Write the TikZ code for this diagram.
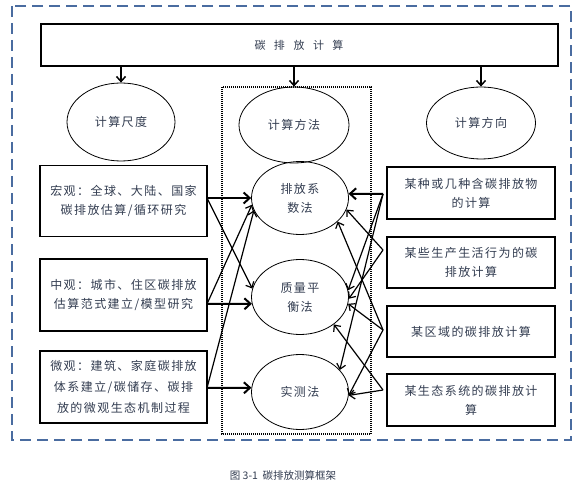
\documentclass[tikz,border=0pt]{standalone}
\usepackage{fontspec}
\newfontfamily\cjk[LetterSpace=12]{Noto Sans CJK SC}
\newfontfamily\cjkcap{Noto Sans CJK SC}
\usepackage{tikz}
\usetikzlibrary{shapes.geometric, arrows.meta}
\definecolor{txtgray}{RGB}{50,60,80}
\definecolor{dashblue}{RGB}{74,108,160}

\begin{document}
\begin{tikzpicture}[x=1pt, y=-1pt,
  box/.style={draw, line width=1.8pt, inner sep=0pt, align=center, text=txtgray,
    font=\cjk\fontsize{12}{19}\selectfont},
  oval/.style={draw, ellipse, line width=0.8pt, inner sep=0pt, align=center, text=txtgray,
    font=\cjk\fontsize{12}{19}\selectfont},
  arr/.style={line width=1.2pt, -{Straight Barb[length=5pt,width=9pt]}},
  thickarr/.style={line width=2pt, -{Straight Barb[length=6pt,width=11pt]}}]
\useasboundingbox (0,0) rectangle (585,486);
% outer frame and method frame
\draw[dashblue, line width=1.8pt, dash pattern=on 11pt off 6pt] (12,6) rectangle (571,440);
\draw[line width=1.2pt, dash pattern=on 1pt off 1pt] (222,87) rectangle (371,434);

% title bar
\node[box, line width=2pt, minimum width=517pt, minimum height=42pt,
  font=\cjk\fontsize{11}{13}\selectfont] (top) at (299,45)
  {碳\hspace{8.5pt}排\hspace{8.5pt}放\hspace{8.5pt}计\hspace{8.5pt}算};

% three aspects
\node[oval, minimum width=108pt, minimum height=78pt] (scale) at (121,122) {计算尺度};
\node[oval, minimum width=110pt, minimum height=76pt] (method) at (294,125) {计算方法};
\node[oval, minimum width=109pt, minimum height=72pt] (direction) at (481,123) {计算方向};
\foreach \n in {scale, method, direction}
\draw[arr, line width=1.5pt] (top.south -| \n.north) -- (\n.north);

% scales
\node[box, minimum width=167pt, minimum height=71pt] (macro) at (123.5,201)
  {宏观：全球、大陆、国家\\碳排放估算/循环研究};
\node[box, minimum width=167pt, minimum height=72pt] (meso) at (123.5,295)
  {中观：城市、住区碳排放\\估算范式建立/模型研究};
\node[box, minimum width=167pt, minimum height=72pt,
  font=\cjk\fontsize{12}{21}\selectfont] (micro) at (123.5,387)
  {微观：建筑、家庭碳排放\\体系建立/碳储存、碳排\\放的微观生态机制过程};

% methods
\node[oval, minimum width=97pt, minimum height=73pt] (ef) at (300,198) {排放系\\数法};
\node[oval, minimum width=97pt, minimum height=75pt] (mb) at (300,297) {质量平\\衡法};
\node[oval, minimum width=97pt, minimum height=75pt] (mm) at (300,392) {实测法};

% directions
\node[box, minimum width=168pt, minimum height=52pt] (sub) at (471,193)
  {某种或几种含碳排放物\\的计算};
\node[box, minimum width=168pt, minimum height=51pt] (act) at (471,262.5)
  {某些生产生活行为的碳\\排放计算};
\node[box, minimum width=168pt, minimum height=51pt] (reg) at (471,331.5)
  {某区域的碳排放计算};
\node[box, minimum width=168pt, minimum height=52pt] (eco) at (471,400)
  {某生态系统的碳排放计\\算};

% ports
\coordinate (lp1) at (207,198);
\coordinate (lp2) at (207,304);
\coordinate (lp3) at (207,388);
\coordinate (rp1) at (383,194);
\coordinate (rp2) at (383,250);
\coordinate (rp3) at (383,330);
\coordinate (rp4) at (383,390);

% scale -> method
\draw[thickarr] (lp1) -- (ef.180);
\draw[arr] (lp1) -- (mb.170);
\draw[thickarr] (lp2) -- (mb.188);
\draw[arr] (lp2) -- (ef.188);
\draw[arr] (lp3) -- (ef.195);
\draw[thickarr] (lp3) -- (mm.175);

% direction -> method
\draw[thickarr] (rp1) -- (ef.5);
\foreach \t in {mb.8, mm.29}
\draw[arr] (rp1) -- (\t);
\foreach \t in {ef.-14, mb.-2}
\draw[arr] (rp2) -- (\t);
\foreach \t in {ef.-32, mb.-8, mm.-4}
\draw[arr] (rp3) -- (\t);
\foreach \t in {mb.-39, mm.-4}
\draw[arr] (rp4) -- (\t);

% caption
\node[font=\cjkcap\fontsize{10.5}{12}\selectfont, text=txtgray] (cap) at (283,475)
  {图 3-1\ \ 碳排放测算框架};
\end{tikzpicture}
\end{document}
